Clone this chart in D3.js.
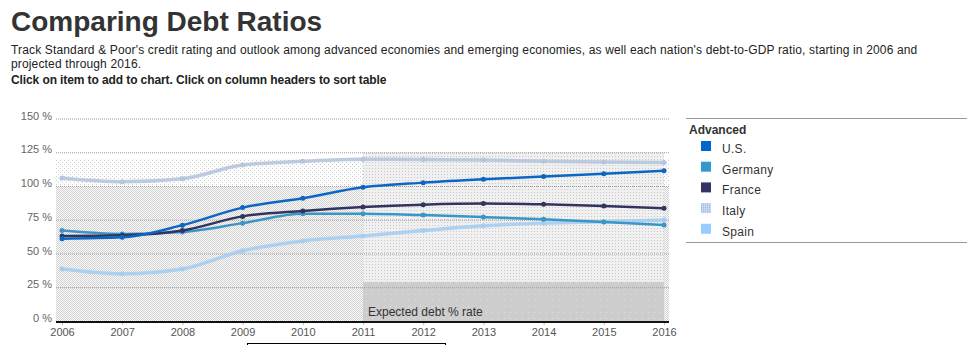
<!DOCTYPE html>
<html lang="en">
    <head>
        <meta charset="utf-8">
        <title>Comparing Debt Ratios</title>
        <script src="https://d3js.org/d3.v7.min.js"></script>
        <style>
            body { margin: 0; background: #fff; font-family: Arial, "Liberation Sans", sans-serif; }
        </style>
    </head>
    <body>
        <div id="dataviz"></div>
        <script>
            // years on the x axis
            var years = [2006, 2007, 2008, 2009, 2010, 2011, 2012, 2013, 2014, 2015, 2016];
            var yTicks = [0, 25, 50, 75, 100, 125, 150];

            // debt-to-GDP ratio, %
            var usValues      = [61, 62, 71, 84, 91, 99, 102.5, 105, 107, 109, 111.3];
            var germanyValues = [67, 64.5, 66, 72.5, 79.5, 79.5, 78.5, 77, 75.3, 73.3, 71.2];
            var franceValues  = [63, 63.5, 67, 77.5, 81.5, 84.4, 86.2, 87, 86.4, 85.2, 83.5];
            var italyValues   = [106, 103.2, 105.4, 115.6, 118.3, 119.8, 119.6, 119.2, 118.3, 117.8, 117.4];
            var spainValues   = [38.5, 35, 38.5, 52, 59.3, 63, 67, 70.5, 72.5, 73.6, 74.8];

            var seriesNames  = ["U.S.", "Germany", "France", "Italy", "Spain"];
            var seriesColors = ["#0b66c4", "#3a96c6", "#33335f", "#b5c5dd", "#a5cdf0"];
            var seriesValues = [usValues, germanyValues, franceValues, italyValues, spainValues];

            var width = 967, height = 345;

            var svg = d3.select("#dataviz")
                        .append("svg")
                        .attr("width", width)
                        .attr("height", height);

            // patterns for the shaded background
            var defs = svg.append("defs");
            var checker = defs.append("pattern").attr("id", "checker")
                .attr("patternUnits", "userSpaceOnUse").attr("width", 2).attr("height", 2);
            checker.append("rect").attr("width", 2).attr("height", 2).attr("fill", "#fbfbfb");
            checker.append("rect").attr("width", 1).attr("height", 1).attr("fill", "#d2d2d2");
            checker.append("rect").attr("x", 1).attr("y", 1).attr("width", 1).attr("height", 1).attr("fill", "#d2d2d2");

            var sparse = defs.append("pattern").attr("id", "sparse")
                .attr("patternUnits", "userSpaceOnUse").attr("width", 4).attr("height", 4);
            sparse.append("rect").attr("width", 4).attr("height", 4).attr("fill", "#fdfdfd");
            sparse.append("rect").attr("width", 1).attr("height", 1).attr("fill", "#d0d0d0");
            sparse.append("rect").attr("x", 2).attr("y", 2).attr("width", 1).attr("height", 1).attr("fill", "#d0d0d0");

            var proj = defs.append("pattern").attr("id", "proj")
                .attr("patternUnits", "userSpaceOnUse").attr("width", 3).attr("height", 3);
            proj.append("rect").attr("width", 3).attr("height", 3).attr("fill", "#f0f0f0");
            proj.append("rect").attr("width", 1).attr("height", 1).attr("fill", "#c8c8c8");

            var projLow = defs.append("pattern").attr("id", "projLow")
                .attr("patternUnits", "userSpaceOnUse").attr("width", 6).attr("height", 6);
            projLow.append("rect").attr("width", 6).attr("height", 6).attr("fill", "#cdcdcd");
            projLow.append("rect").attr("width", 1).attr("height", 1).attr("fill", "#e2e2e2");

            // title and intro
            svg.append("text").attr("x", 11).attr("y", 31)
                .text("Comparing Debt Ratios")
                .style("font-size", "28px").style("font-weight", "bold").style("fill", "#333");

            var intro = svg.append("g").style("font-size", "12px").style("fill", "#222");
            intro.append("text").attr("x", 11).attr("y", 54).style("letter-spacing", "0.15px")
                .text("Track Standard & Poor's credit rating and outlook among advanced economies and emerging economies, as well each nation's debt-to-GDP ratio, starting in 2006 and");
            intro.append("text").attr("x", 11).attr("y", 67.5).style("letter-spacing", "0.15px")
                .text("projected through 2016.");
            intro.append("text").attr("x", 11).attr("y", 83.5).style("font-weight", "bold")
                .style("letter-spacing", "-0.1px")
                .text("Click on item to add to chart. Click on column headers to sort table");

            // scales
            var x = d3.scaleLinear().domain([2006, 2016]).range([62, 664]);
            var y = d3.scaleLinear().domain([0, 150]).range([321, 118.5]);
            var plotLeft = 56, plotRight = 669;

            // background bands
            svg.append("rect").attr("x", plotLeft).attr("y", y(120))
                .attr("width", plotRight - plotLeft).attr("height", y(100) - y(120))
                .attr("fill", "url(#sparse)");
            svg.append("rect").attr("x", plotLeft).attr("y", y(100))
                .attr("width", plotRight - plotLeft).attr("height", y(0) - y(100))
                .attr("fill", "url(#checker)");
            svg.append("rect").attr("x", x(2011)).attr("y", y(125))
                .attr("width", x(2016) - x(2011)).attr("height", y(29) - y(125))
                .attr("fill", "url(#proj)");
            svg.append("rect").attr("x", x(2011)).attr("y", y(29))
                .attr("width", x(2016) - x(2011)).attr("height", y(0) - y(29))
                .attr("fill", "url(#projLow)");

            // gridlines
            svg.append("g").selectAll("line")
                .data(yTicks.filter(function(d) { return d > 0; }))
                .enter().append("line")
                .attr("x1", plotLeft).attr("x2", plotRight)
                .attr("y1", function(d) { return y(d) + 0.5; })
                .attr("y2", function(d) { return y(d) + 0.5; })
                .attr("stroke", "#9a9a9a").attr("stroke-dasharray", "1,1");

            svg.append("text").attr("x", x(2011) + 5).attr("y", 316)
                .text("Expected debt % rate")
                .style("font-size", "12px").style("fill", "#333");

            // y labels
            svg.append("g").selectAll("text")
                .data(yTicks)
                .enter().append("text")
                .attr("x", 52).attr("y", function(d) { return y(d) + 1; })
                .attr("text-anchor", "end")
                .text(function(d) { return d + " %"; })
                .style("font-size", "11px").style("fill", "#666");

            // x axis
            var xAxis = svg.append("g")
                .attr("transform", "translate(0," + y(0) + ")")
                .call(d3.axisBottom(x).tickValues(years).tickFormat(d3.format("d")).tickSize(4).tickPadding(3));
            xAxis.select(".domain").remove();
            xAxis.selectAll(".tick line").attr("stroke", "#bbb");
            xAxis.selectAll("text").style("font-size", "11px").style("fill", "#555")
                .style("font-family", "Arial, 'Liberation Sans', sans-serif");
            svg.append("line").attr("x1", plotLeft).attr("x2", plotRight)
                .attr("y1", y(0) + 1).attr("y2", y(0) + 1)
                .attr("stroke", "#111").attr("stroke-width", 2);

            // lines
            var line = d3.line()
                .x(function(d, i) { return x(years[i]); })
                .y(function(d) { return y(d); })
                .curve(d3.curveMonotoneX);

            var drawOrder = [3, 4, 1, 2, 0];
            drawOrder.forEach(function(k) {
                var light = k >= 3;
                svg.append("path")
                    .datum(seriesValues[k])
                    .attr("d", line)
                    .attr("fill", "none")
                    .attr("stroke", seriesColors[k])
                    .attr("stroke-width", light ? 3.5 : 2.5)
                    .attr("opacity", light ? 0.9 : 1);
                svg.append("g").selectAll("circle")
                    .data(seriesValues[k])
                    .enter().append("circle")
                    .attr("cx", function(d, i) { return x(years[i]); })
                    .attr("cy", function(d) { return y(d); })
                    .attr("r", 2.5)
                    .attr("fill", seriesColors[k]);
            });

            // legend
            var legend = svg.append("g");
            legend.append("line").attr("x1", 686).attr("x2", 967).attr("y1", 118.5).attr("y2", 118.5).attr("stroke", "#999");
            legend.append("line").attr("x1", 686).attr("x2", 967).attr("y1", 242.5).attr("y2", 242.5).attr("stroke", "#999");
            legend.append("text").attr("x", 689).attr("y", 134).text("Advanced")
                .style("font-size", "12px").style("font-weight", "bold").style("fill", "#333");

            var italyPat = defs.append("pattern").attr("id", "italySwatch")
                .attr("patternUnits", "userSpaceOnUse").attr("width", 2).attr("height", 2);
            italyPat.append("rect").attr("width", 2).attr("height", 2).attr("fill", "#c8d8ee");
            italyPat.append("rect").attr("width", 1).attr("height", 1).attr("fill", "#9ab8e0");

            var legendColors = ["#0066cc", "#3399cc", "#333366", "url(#italySwatch)", "#99ccff"];
            var items = legend.selectAll(".item")
                .data(seriesNames)
                .enter().append("g")
                .attr("transform", function(d, i) { return "translate(701," + (141 + i * 20.7) + ")"; });
            items.append("rect").attr("width", 10).attr("height", 10)
                .attr("fill", function(d, i) { return legendColors[i]; });
            items.append("text").attr("x", 21).attr("y", 12)
                .text(function(d) { return d; })
                .style("font-size", "12px").style("fill", "#333").style("letter-spacing", "0.3px");

            // box peeking in at the bottom
            svg.append("rect").attr("x", 247.5).attr("y", 343.5).attr("width", 198).attr("height", 20)
                .attr("fill", "#fff").attr("stroke", "#000");
        </script>
    </body>
</html>
